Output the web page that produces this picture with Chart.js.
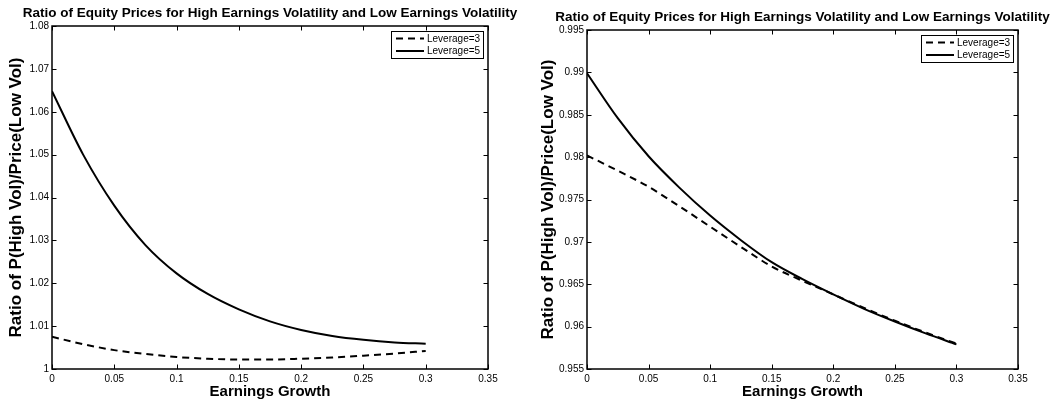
<!DOCTYPE html>
<html>
<head>
<meta charset="utf-8">
<script src="https://cdn.jsdelivr.net/npm/chart.js@4.4.0/dist/chart.umd.min.js"></script>
<style>
  body { margin: 0; background: #fff; width: 1056px; height: 405px; overflow: hidden; position: relative; }
  .panel { position: absolute; top: 0; width: 528px; height: 405px; }
</style>
</head>
<body>
<div class="panel" style="left:0"><canvas id="leftChart"></canvas></div>
<div class="panel" style="left:528px"><canvas id="rightChart"></canvas></div>
<script>
// earnings growth (x) shared by all curves
const growth = [0, 0.025, 0.05, 0.075, 0.1, 0.125, 0.15, 0.175, 0.2, 0.225, 0.25, 0.275, 0.3];

// left panel
const leftLev3 = [1.0075, 1.0058, 1.0044, 1.0035, 1.0028, 1.0024, 1.0022, 1.0022, 1.0024, 1.0027, 1.0031, 1.0036, 1.0042];
const leftLev5 = [1.0648, 1.0500, 1.0381, 1.0289, 1.0223, 1.0175, 1.0139, 1.0111, 1.0091, 1.0077, 1.0068, 1.0062, 1.0059];

// right panel
const rightLev3 = [0.9802, 0.9784, 0.9765, 0.9742, 0.9718, 0.9694, 0.9671, 0.9654, 0.9638, 0.9622, 0.9607, 0.9593, 0.9580];
const rightLev5 = [0.9899, 0.9846, 0.9801, 0.9764, 0.9731, 0.9702, 0.9676, 0.9656, 0.9638, 0.9621, 0.9606, 0.9592, 0.9579];

// tick labels
const xTicks = [0, 0.05, 0.1, 0.15, 0.2, 0.25, 0.3, 0.35];
const leftYTicks = [1, 1.01, 1.02, 1.03, 1.04, 1.05, 1.06, 1.07, 1.08];
const rightYTicks = [0.955, 0.96, 0.965, 0.97, 0.975, 0.98, 0.985, 0.99, 0.995];

const seriesLabels = ['Leverage=3', 'Leverage=5'];
const chartTitle = 'Ratio of Equity Prices for High Earnings Volatility and Low Earnings Volatility';
const xTitle = 'Earnings Growth';
const yTitle = 'Ratio of P(High Vol)/Price(Low Vol)';

const FONT = '"Liberation Sans", Arial, Helvetica, sans-serif';
Chart.defaults.font.family = FONT;
Chart.defaults.color = '#000';

function fmt(v) {
  return String(parseFloat(Number(v).toFixed(4)));
}

// MATLAB-style box, inward ticks, title and boxed legend
const matlabFrame = {
  id: 'matlabFrame',
  afterDatasetsDraw(chart, args, opts) {
    const { ctx, chartArea: a, scales: { x, y } } = chart;
    ctx.save();
    ctx.strokeStyle = '#000';
    ctx.lineWidth = 1;
    ctx.setLineDash([]);
    ctx.beginPath();
    x.ticks.forEach(t => {
      const px = Math.round(x.getPixelForValue(t.value)) + 0.5;
      ctx.moveTo(px, a.bottom); ctx.lineTo(px, a.bottom - 4.5);
      ctx.moveTo(px, a.top); ctx.lineTo(px, a.top + 4.5);
    });
    y.ticks.forEach(t => {
      const py = Math.round(y.getPixelForValue(t.value)) + 0.5;
      ctx.moveTo(a.left, py); ctx.lineTo(a.left + 4.5, py);
      ctx.moveTo(a.right, py); ctx.lineTo(a.right - 4.5, py);
    });
    ctx.stroke();
    ctx.lineWidth = 1.5;
    ctx.strokeRect(a.left, a.top, a.right - a.left, a.bottom - a.top);

    // title
    ctx.fillStyle = '#000';
    ctx.font = 'bold 13.5px ' + FONT;
    ctx.textAlign = 'center';
    ctx.textBaseline = 'middle';
    ctx.fillText(opts.title, (a.left + a.right) / 2, opts.titleY);

    // legend
    const bw = 92, bh = 27;
    const bx = a.right - 5 - bw, by = a.top + 5;
    ctx.fillStyle = '#fff';
    ctx.fillRect(bx, by, bw, bh);
    ctx.lineWidth = 1;
    ctx.strokeRect(bx + 0.5, by + 0.5, bw, bh);
    ctx.font = '10px ' + FONT;
    ctx.textAlign = 'left';
    chart.data.datasets.forEach((ds, i) => {
      const ry = by + 7.5 + i * 12.5;
      ctx.lineWidth = ds.borderWidth;
      ctx.setLineDash(ds.borderDash || []);
      ctx.beginPath();
      ctx.moveTo(bx + 5, ry);
      ctx.lineTo(bx + 33, ry);
      ctx.stroke();
      ctx.setLineDash([]);
      ctx.fillStyle = '#000';
      ctx.fillText(ds.label, bx + 36, ry + 0.5);
    });
    ctx.restore();
  }
};

function makeChart(id, lev3, lev5, yTicks, opts) {
  const toPts = arr => arr.map((v, i) => ({ x: growth[i], y: v }));
  return new Chart(document.getElementById(id), {
    type: 'line',
    data: {
      datasets: [
        { label: seriesLabels[0], data: toPts(lev3), borderColor: '#000', borderWidth: 2, borderDash: [7, 5], pointRadius: 0, cubicInterpolationMode: 'monotone' },
        { label: seriesLabels[1], data: toPts(lev5), borderColor: '#000', borderWidth: 2, pointRadius: 0, cubicInterpolationMode: 'monotone' }
      ]
    },
    options: {
      responsive: true,
      maintainAspectRatio: false,
      animation: false,
      layout: { padding: { left: 0, right: opts.padRight, top: opts.padTop, bottom: 0 } },
      plugins: {
        legend: { display: false },
        tooltip: { enabled: false },
        matlabFrame: { title: chartTitle, titleY: opts.titleY }
      },
      scales: {
        x: {
          type: 'linear',
          min: 0, max: 0.35,
          afterBuildTicks: s => { s.ticks = xTicks.map(v => ({ value: v })); },
          afterFit: s => { s.height = 36; },
          grid: { display: false, drawTicks: false },
          border: { display: false },
          ticks: { font: { size: 10 }, padding: 4, maxRotation: 0, autoSkip: false, callback: fmt },
          title: { display: true, text: xTitle, font: { size: 15, weight: 'bold' }, padding: { top: 0, bottom: 4 } }
        },
        y: {
          type: 'linear',
          min: yTicks[0], max: yTicks[yTicks.length - 1],
          afterBuildTicks: s => { s.ticks = yTicks.map(v => ({ value: v })); },
          afterFit: s => { s.width = opts.yWidth; },
          grid: { display: false, drawTicks: false },
          border: { display: false },
          ticks: { font: { size: 10 }, padding: 3, autoSkip: false, callback: fmt },
          title: { display: true, text: yTitle, font: { size: 17, weight: 'bold' }, padding: { top: opts.yTitlePad, bottom: 0 } }
        }
      }
    },
    plugins: [matlabFrame]
  });
}

makeChart('leftChart', leftLev3, leftLev5, leftYTicks, { padRight: 40, padTop: 26, yWidth: 52, yTitlePad: 6, titleY: 13 });
makeChart('rightChart', rightLev3, rightLev5, rightYTicks, { padRight: 38, padTop: 30, yWidth: 59, yTitlePad: 10, titleY: 17 });
</script>
</body>
</html>
